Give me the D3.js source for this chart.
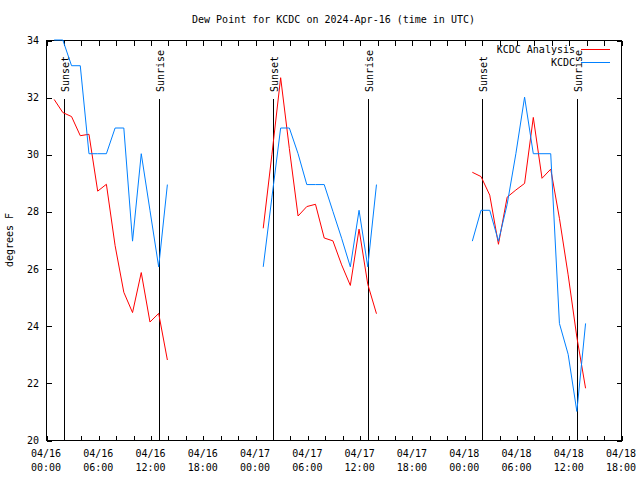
<!DOCTYPE html>
<html>
<head>
<meta charset="utf-8">
<script src="https://cdn.jsdelivr.net/npm/d3@7"></script>
<style>
  body { margin: 0; background: #fff; }
  text { font-family: "DejaVu Sans Mono", "Liberation Mono", monospace; font-size: 10px; fill: #000; }
</style>
</head>
<body>
<svg id="chart" width="640" height="480"></svg>
<script>
// ---- data ----
const title = "Dew Point for KCDC on 2024-Apr-16 (time in UTC)";
const yLabel = "degrees F";
const seriesNames = ["KCDC Analysis", "KCDC"];
const seriesColors = ["#ff0000", "#0080ff"];

const times = [
  "2024-04-16T00:56Z","2024-04-16T01:56Z","2024-04-16T02:56Z","2024-04-16T03:56Z","2024-04-16T04:56Z",
  "2024-04-16T05:56Z","2024-04-16T06:56Z","2024-04-16T07:56Z","2024-04-16T08:56Z","2024-04-16T09:56Z",
  "2024-04-16T10:56Z","2024-04-16T11:56Z","2024-04-16T12:56Z","2024-04-16T13:56Z",
  "2024-04-17T00:56Z","2024-04-17T01:56Z","2024-04-17T02:56Z","2024-04-17T03:56Z","2024-04-17T04:56Z",
  "2024-04-17T05:56Z","2024-04-17T06:56Z","2024-04-17T07:56Z","2024-04-17T08:56Z","2024-04-17T09:56Z",
  "2024-04-17T10:56Z","2024-04-17T11:56Z","2024-04-17T12:56Z","2024-04-17T13:56Z",
  "2024-04-18T00:56Z","2024-04-18T01:56Z","2024-04-18T02:56Z","2024-04-18T03:56Z","2024-04-18T04:56Z",
  "2024-04-18T05:56Z","2024-04-18T06:56Z","2024-04-18T07:56Z","2024-04-18T08:56Z","2024-04-18T09:56Z",
  "2024-04-18T10:56Z","2024-04-18T11:56Z","2024-04-18T12:56Z","2024-04-18T13:56Z"
];

const analysis = [
  31.92, 31.46, 31.32, 30.65, 30.70, 28.71, 28.95, 26.80, 25.17, 24.46, 25.86, 24.13, 24.43, 22.80,
  27.41, 30.00, 32.68, 30.20, 27.84, 28.17, 28.25, 27.07, 26.97, 26.13, 25.41, 27.38, 25.45, 24.42,
  29.37, 29.22, 28.57, 26.85, 28.50, 28.75, 28.98, 31.29, 29.16, 29.48, 27.76, 25.78, 23.60, 21.81
];

const observed = [
  34.00, 34.00, 33.10, 33.10, 30.02, 30.02, 30.02, 30.92, 30.92, 26.96, 30.02, 28.04, 26.06, 28.94,
  26.06, 28.50, 30.92, 30.92, 30.02, 28.94, 28.94, 28.94, 28.00, 27.06, 26.06, 28.04, 26.06, 28.94,
  26.96, 28.04, 28.04, 26.96, 28.25, 30.02, 32.00, 30.02, 30.02, 30.02, 24.08, 23.00, 21.00, 24.08
];

const sunEvents = [
  { label: "Sunset",  time: "2024-04-16T02:06Z" },
  { label: "Sunrise", time: "2024-04-16T12:59Z" },
  { label: "Sunset",  time: "2024-04-17T02:05Z" },
  { label: "Sunrise", time: "2024-04-17T12:59Z" },
  { label: "Sunset",  time: "2024-04-18T02:05Z" },
  { label: "Sunrise", time: "2024-04-18T12:59Z" }
];
const sunLineTop = 31.93;

const xDomain = ["2024-04-16T00:00Z", "2024-04-18T18:00Z"];
const yDomain = [20, 34];
const yTicks = [20, 22, 24, 26, 28, 30, 32, 34];

// ---- layout ----
const svg = d3.select("#chart");
const L = 46, R = 621, T = 40, B = 440;
const parse = d3.isoParse;

const x = d3.scaleUtc().domain(xDomain.map(parse)).range([L, R]);
const y = d3.scaleLinear().domain(yDomain).range([B, T]);

const majorTicks = d3.utcHour.every(6).range(parse(xDomain[0]), d3.utcHour.offset(parse(xDomain[1]), 1));
const minorTicks = d3.utcHour.every(2).range(parse(xDomain[0]), d3.utcHour.offset(parse(xDomain[1]), 1));

// title
svg.append("text").attr("x", (L + R) / 2).attr("y", 23).attr("text-anchor", "middle").text(title);

// y label
svg.append("text").attr("transform", "translate(13,240) rotate(-90)")
  .attr("text-anchor", "middle").text(yLabel);

// axes frame
const g = svg.append("g").attr("shape-rendering", "crispEdges");
g.append("rect").attr("x", L + 0.5).attr("y", T + 0.5).attr("width", R - L).attr("height", B - T)
  .attr("fill", "none").attr("stroke", "#000");

// x ticks (bottom/top)
const bottomAxis = d3.axisBottom(x).tickValues(minorTicks).tickSize(-5).tickFormat("");
g.append("g").attr("transform", `translate(0.5,${B + 0.5})`).call(bottomAxis)
  .call(s => s.select(".domain").remove());
const topAxis = d3.axisTop(x).tickValues(minorTicks).tickSize(-5).tickFormat("");
g.append("g").attr("transform", `translate(0.5,${T + 0.5})`).call(topAxis)
  .call(s => s.select(".domain").remove());

// x labels
const fmtD = d3.utcFormat("%m/%d"), fmtT = d3.utcFormat("%H:%M");
const xl = svg.append("g");
majorTicks.forEach(t => {
  const tx = xl.append("text").attr("x", x(t)).attr("y", 457).attr("text-anchor", "middle");
  tx.text(fmtD(t));
  xl.append("text").attr("x", x(t)).attr("y", 471).attr("text-anchor", "middle").text(fmtT(t));
});

// y ticks
const leftAxis = d3.axisLeft(y).tickValues(yTicks).tickSize(-5).tickFormat("");
g.append("g").attr("transform", `translate(${L + 0.5},0.5)`).call(leftAxis)
  .call(s => s.select(".domain").remove());
const rightAxis = d3.axisRight(y).tickValues(yTicks).tickSize(-5).tickFormat("");
g.append("g").attr("transform", `translate(${R + 0.5},0.5)`).call(rightAxis)
  .call(s => s.select(".domain").remove());
svg.append("g").selectAll("text").data(yTicks).join("text")
  .attr("x", 39).attr("y", d => y(d) + 4).attr("text-anchor", "end").text(d => d);

// sun lines
sunEvents.forEach(e => {
  const sx = Math.round(x(parse(e.time))) + 0.5;
  svg.append("line").attr("x1", sx).attr("x2", sx).attr("y1", B).attr("y2", y(sunLineTop))
    .attr("stroke", "#000").attr("shape-rendering", "crispEdges");
  svg.append("text").attr("transform", `translate(${sx + 4},92) rotate(-90)`)
    .attr("text-anchor", "start").text(e.label);
});

// data lines
svg.append("clipPath").attr("id", "clip").append("rect")
  .attr("x", L).attr("y", T - 1).attr("width", R - L + 1).attr("height", B - T + 2);

const rows = times.map((t, i) => ({ t: parse(t), a: analysis[i], o: observed[i] }));
const groups = d3.groups(rows, d => d3.utcFormat("%Y-%m-%d")(d.t));
const plot = svg.append("g").attr("clip-path", "url(#clip)");
[["a", 0], ["o", 1]].forEach(([key, si]) => {
  const line = d3.line().x(d => x(d.t)).y(d => y(d[key]));
  groups.forEach(([, pts]) => {
    plot.append("path").attr("d", line(pts)).attr("fill", "none")
      .attr("stroke", seriesColors[si]).attr("stroke-width", 1);
  });
});

// legend
const legend = svg.append("g");
seriesNames.forEach((n, i) => {
  const ly = 49 + i * 13;
  legend.append("text").attr("x", 575).attr("y", ly + 4).attr("text-anchor", "end").text(n);
  legend.append("line").attr("x1", 581).attr("x2", 610).attr("y1", ly + 0.5).attr("y2", ly + 0.5)
    .attr("stroke", seriesColors[i]).attr("shape-rendering", "crispEdges");
});
</script>
</body>
</html>
